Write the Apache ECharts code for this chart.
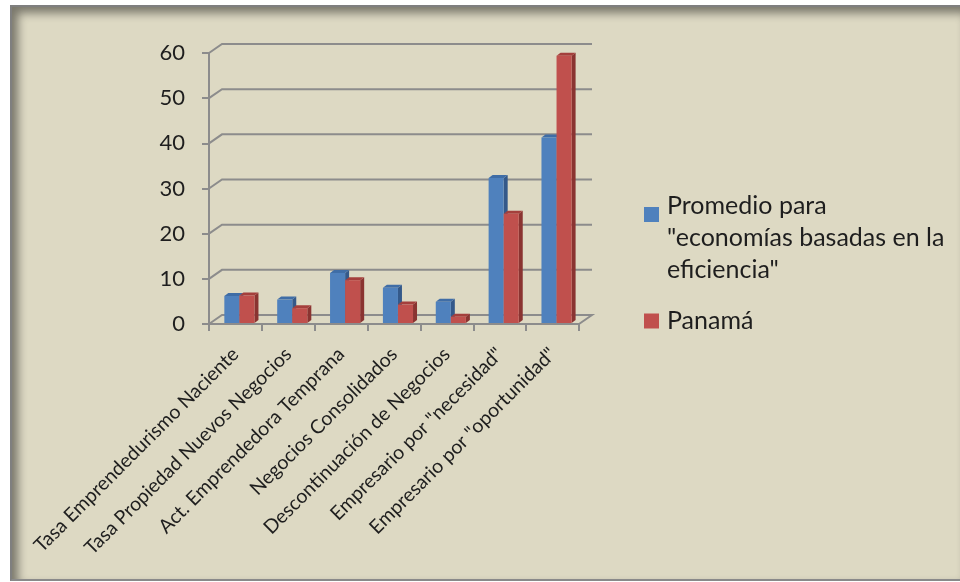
<!DOCTYPE html>
<html>
<head>
<meta charset="utf-8">
<script src="https://cdn.jsdelivr.net/npm/echarts@6/dist/echarts.min.js"></script>
<style>
  html, body { margin: 0; padding: 0; background: #ffffff; }
  #frame {
    position: absolute; left: 10px; top: 5px; right: 0; bottom: 1px;
    background: #DDD9C3;
    border-left: 2px solid #7f7f7f; border-top: 2px solid #7f7f7f; border-bottom: 2px solid #8a8a8a;
    box-shadow: inset 6px 6px 10px rgba(0,0,0,0.45);
  }
  #chart { position: absolute; left: 0; top: 0; width: 960px; height: 582px; }
</style>
</head>
<body>
<div id="frame"></div>
<div id="chart"></div>
<script>
// ---- data ----
const categories = [
  'Tasa Emprendedurismo Naciente',
  'Tasa Propiedad Nuevos Negocios',
  'Act. Emprendedora Temprana',
  'Negocios Consolidados',
  'Descontinuación de Negocios',
  'Empresario por "necesidad"',
  'Empresario por "oportunidad"'
];
const seriesNames = ['Promedio para "economías basadas en la eficiencia"', 'Panamá'];
const promedio = [6.2, 5.4, 11.3, 8.0, 4.9, 32.3, 41.3];
const panama = [6.3, 3.5, 9.7, 4.3, 1.6, 24.4, 59.4];
const yTicks = [0, 10, 20, 30, 40, 50, 60];

// ---- styling ----
const GRID_DX = 13, GRID_DY = -9;   // back-wall depth
const BAR_DX = 4, BAR_DY = -3;      // bar depth
const gridColor = '#8C8C8C';
const colors = [
  { front: '#4F81BD', side: '#34598A', top: '#3F6DA6' },
  { front: '#C0504D', side: '#8A3431', top: '#A43F3C' }
];
const font = 'Lato, "Open Sans", sans-serif';
const textColor = '#1e1e1e';

const chart = echarts.init(document.getElementById('chart'), null, { renderer: 'canvas' });

function barRenderer(sIdx) {
  return function (params, api) {
    const idx = api.value(0);
    const val = api.value(1);
    const base = api.coord([idx, 0]);
    const topP = api.coord([idx, val]);
    const catW = api.size([1, 0])[0];
    const bw = catW * 0.285;
    const x0 = base[0] - catW * 0.21 + sIdx * bw;
    const yb = base[1] - 1;
    const yt = topP[1];
    const c = colors[sIdx];
    return {
      type: 'group',
      children: [
        { type: 'polygon', shape: { points: [[x0 + bw, yt], [x0 + bw + BAR_DX, yt + BAR_DY], [x0 + bw + BAR_DX, yb + BAR_DY], [x0 + bw, yb]] }, style: { fill: c.side } },
        { type: 'polygon', shape: { points: [[x0, yt], [x0 + BAR_DX, yt + BAR_DY], [x0 + bw + BAR_DX, yt + BAR_DY], [x0 + bw, yt]] }, style: { fill: c.top } },
        { type: 'rect', shape: { x: x0, y: yt, width: bw, height: yb - yt }, style: { fill: c.front } }
      ]
    };
  };
}

const legendText = { fontSize: 25, fontFamily: font, color: textColor, lineHeight: 32, padding: [0, 0, 0, 3] };

const option = {
  backgroundColor: 'transparent',
  animation: false,
  grid: { left: 209, right: 381, top: 53, bottom: 258 },
  xAxis: {
    type: 'category', data: categories,
    axisLine: { show: true, lineStyle: { color: gridColor, width: 2 } },
    axisTick: { show: true, length: 7, lineStyle: { color: gridColor, width: 2 } },
    axisLabel: { show: true, rotate: 45, margin: 27, interval: 0, fontSize: 19.5, fontFamily: font, color: textColor },
    splitLine: { show: false }
  },
  yAxis: {
    type: 'value', min: 0, max: 60, interval: 10,
    axisLine: { show: true, lineStyle: { color: gridColor, width: 2 } },
    axisTick: { show: true, inside: false, length: 7, lineStyle: { color: gridColor, width: 2 } },
    axisLabel: { margin: 24, fontSize: 22, fontFamily: font, color: textColor },
    splitLine: { show: false }
  },
  legend: [
    {
      orient: 'vertical', left: 639, top: 185,
      itemWidth: 15, itemHeight: 96, selectedMode: false,
      textStyle: legendText,
      formatter: function () { return 'Promedio para\n"economías basadas en la\neficiencia"'; },
      data: [{ name: seriesNames[0], icon: 'path://M0,0h0.01v0.01h-0.01z M0,17h15v15h-15z M0,95.99h0.01v0.01h-0.01z' }]
    },
    {
      orient: 'vertical', left: 639, top: 300,
      itemWidth: 15, itemHeight: 15, selectedMode: false,
      textStyle: legendText,
      data: [{ name: seriesNames[1], icon: 'rect' }]
    }
  ],
  series: [
    {
      name: 'grid3d', type: 'custom', silent: true, z: 1,
      data: yTicks.map(v => [0, v]),
      renderItem: function (params, api) {
        const cs = params.coordSys;
        const v = api.value(1);
        const y = api.coord([0, v])[1];
        const x0 = cs.x, x1 = cs.x + cs.width;
        const pts = [[x0, y], [x0 + GRID_DX, y + GRID_DY], [x1 + GRID_DX, y + GRID_DY]];
        if (v === 0) pts.push([x1, y]);
        return { type: 'polyline', shape: { points: pts }, style: { stroke: gridColor, lineWidth: 2, fill: null } };
      }
    },
    {
      name: seriesNames[0], type: 'custom', z: 2,
      itemStyle: { color: colors[0].front },
      data: promedio.map((v, i) => [i, v]),
      renderItem: barRenderer(0)
    },
    {
      name: seriesNames[1], type: 'custom', z: 3,
      itemStyle: { color: colors[1].front },
      data: panama.map((v, i) => [i, v]),
      renderItem: barRenderer(1)
    }
  ]
};
chart.setOption(option);
</script>
</body>
</html>
